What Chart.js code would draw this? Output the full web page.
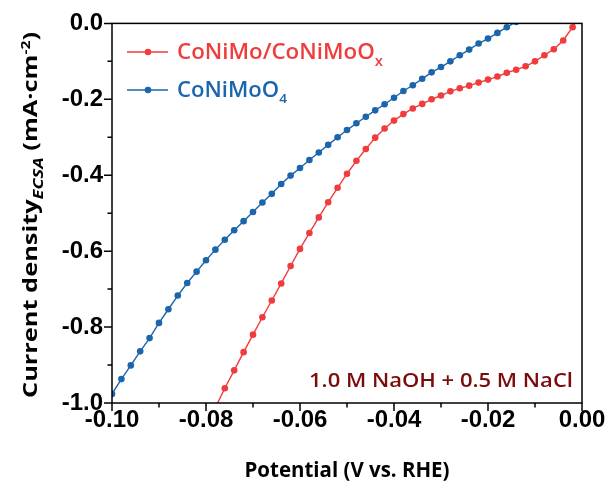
<!DOCTYPE html>
<html lang="en">
<head>
<meta charset="UTF-8">
<title>LSV CoNiMo/CoNiMoOx vs CoNiMoO4</title>
<script src="https://cdn.jsdelivr.net/npm/chart.js"></script>
<style>
  html, body { margin: 0; padding: 0; background: #fff; }
  #wrap { width: 609px; height: 481px; }
</style>
</head>
<body>
<div id="wrap"><canvas id="lsv"></canvas></div>
<script>
  // potential (V vs. RHE) and current density (mA cm^-2)
  const redPotential = [-0.078, -0.076, -0.074, -0.072, -0.070, -0.068, -0.066, -0.064, -0.062, -0.060,
    -0.058, -0.056, -0.054, -0.052, -0.050, -0.048, -0.046, -0.044, -0.042, -0.040,
    -0.038, -0.036, -0.034, -0.032, -0.030, -0.028, -0.026, -0.024, -0.022, -0.020,
    -0.018, -0.016, -0.014, -0.012, -0.010, -0.008, -0.006, -0.004, -0.002, 0.000];
  const redCurrent = [-1.012, -0.961, -0.914, -0.866, -0.820, -0.774, -0.730, -0.685, -0.639, -0.594,
    -0.552, -0.511, -0.471, -0.433, -0.396, -0.362, -0.331, -0.301, -0.277, -0.256,
    -0.239, -0.224, -0.212, -0.200, -0.190, -0.179, -0.171, -0.164, -0.156, -0.148,
    -0.140, -0.130, -0.122, -0.113, -0.100, -0.084, -0.068, -0.045, -0.010, 0.030];

  const bluePotential = [-0.100, -0.098, -0.096, -0.094, -0.092, -0.090, -0.088, -0.086, -0.084, -0.082,
    -0.080, -0.078, -0.076, -0.074, -0.072, -0.070, -0.068, -0.066, -0.064, -0.062,
    -0.060, -0.058, -0.056, -0.054, -0.052, -0.050, -0.048, -0.046, -0.044, -0.042,
    -0.040, -0.038, -0.036, -0.034, -0.032, -0.030, -0.028, -0.026, -0.024, -0.022,
    -0.020, -0.018, -0.016, -0.014];
  const blueCurrent = [-0.976, -0.937, -0.901, -0.864, -0.829, -0.789, -0.753, -0.717, -0.684, -0.654,
    -0.624, -0.596, -0.570, -0.545, -0.521, -0.497, -0.472, -0.449, -0.423, -0.401,
    -0.381, -0.360, -0.340, -0.320, -0.300, -0.281, -0.263, -0.246, -0.229, -0.213,
    -0.196, -0.178, -0.163, -0.146, -0.129, -0.115, -0.100, -0.084, -0.069, -0.053,
    -0.040, -0.025, -0.010, 0.004];

  const xTicks = [-0.10, -0.08, -0.06, -0.04, -0.02, 0.00];
  const xTickLabels = ['-0.10', '-0.08', '-0.06', '-0.04', '-0.02', '0.00'];
  const xMinor = [-0.09, -0.07, -0.05, -0.03, -0.01];
  const yTicks = [-1.0, -0.8, -0.6, -0.4, -0.2, 0.0];
  const yTickLabels = ['-1.0', '-0.8', '-0.6', '-0.4', '-0.2', '0.0'];
  const yMinor = [-0.9, -0.7, -0.5, -0.3, -0.1];

  const RED = '#f03c3c';
  const BLUE = '#1b65ac';
  const NOTE = '#7a0c0c';
  const TXT = '"Open Sans", Lato, sans-serif';

  function toPoints(xs, ys) {
    return xs.map((x, i) => ({ x: x, y: ys[i] }));
  }

  function fontOf(s) {
    return (s.italic ? 'italic ' : '') + (s.weight || 700) + ' ' + s.size + 'px ' + TXT;
  }

  // draws runs of text with sub/superscripts; fit = wanted total width, reached by squeezing along the text
  function drawRich(ctx, segs, x, y, align, color, fit) {
    let total = 0;
    segs.forEach(s => { ctx.font = fontOf(s); s.w = ctx.measureText(s.t).width; total += s.w; });
    const k = fit ? fit / total : 1;
    const w = total * k;
    const x0 = align === 'center' ? x - w / 2 : align === 'right' ? x - w : x;
    ctx.save();
    ctx.translate(x0, y);
    ctx.scale(k, 1);
    ctx.fillStyle = color;
    ctx.textAlign = 'left';
    ctx.textBaseline = 'alphabetic';
    let cx = 0;
    segs.forEach(s => {
      ctx.font = fontOf(s);
      ctx.fillText(s.t, cx, s.dy || 0);
      cx += s.w;
    });
    ctx.restore();
  }

  const decor = {
    id: 'decor',
    afterDraw(chart) {
      const ctx = chart.ctx;
      const a = chart.chartArea;
      const xs = chart.scales.x, ys = chart.scales.y;
      ctx.save();
      ctx.strokeStyle = '#000';
      ctx.lineWidth = 1.5;
      ctx.strokeRect(a.left, a.top, a.right - a.left, a.bottom - a.top);

      ctx.beginPath();
      xTicks.forEach(v => { const p = xs.getPixelForValue(v); ctx.moveTo(p, a.bottom); ctx.lineTo(p, a.bottom + 8); });
      xMinor.forEach(v => { const p = xs.getPixelForValue(v); ctx.moveTo(p, a.bottom); ctx.lineTo(p, a.bottom + 4.5); });
      yTicks.forEach(v => { const p = ys.getPixelForValue(v); ctx.moveTo(a.left, p); ctx.lineTo(a.left - 8, p); });
      yMinor.forEach(v => { const p = ys.getPixelForValue(v); ctx.moveTo(a.left, p); ctx.lineTo(a.left - 4.5, p); });
      ctx.stroke();

      // axis titles
      drawRich(ctx, [{ t: 'Potential (V vs. RHE)', size: 21 }], (a.left + a.right) / 2, 477, 'center', '#000', 205);
      ctx.save();
      ctx.translate(37, 215);
      ctx.rotate(-Math.PI / 2);
      drawRich(ctx, [
        { t: 'Current density', size: 19.5 },
        { t: 'ECSA', size: 14, italic: true, dy: 6 },
        { t: ' (mA\u00b7cm', size: 19.5 },
        { t: '-2', size: 12, dy: -7 },
        { t: ')', size: 19.5 }
      ], 0, 0, 'center', '#000', 366);
      ctx.restore();

      // legend
      const legend = [
        { color: RED, y: 52, fit: 206, segs: [{ t: 'CoNiMo/CoNiMoO', size: 21, weight: 600 }, { t: 'x', size: 14, dy: 7, weight: 600 }] },
        { color: BLUE, y: 90, fit: 110, segs: [{ t: 'CoNiMoO', size: 21, weight: 600 }, { t: '4', size: 13, dy: 6, weight: 600 }] }
      ];
      legend.forEach(l => {
        ctx.strokeStyle = l.color;
        ctx.lineWidth = 1.4;
        ctx.beginPath(); ctx.moveTo(127, l.y); ctx.lineTo(168, l.y); ctx.stroke();
        ctx.fillStyle = l.color;
        ctx.beginPath(); ctx.arc(148, l.y, 3.3, 0, Math.PI * 2); ctx.fill();
        drawRich(ctx, l.segs, 177, l.y + 7, 'left', l.color, l.fit);
      });

      drawRich(ctx, [{ t: '1.0 M NaOH + 0.5 M NaCl', size: 20, weight: 600 }], a.right - 9, 387, 'right', NOTE, 264);
      ctx.restore();
    }
  };

  new Chart(document.getElementById('lsv'), {
    type: 'line',
    data: {
      datasets: [
        {
          label: 'CoNiMo/CoNiMoOx',
          data: toPoints(redPotential, redCurrent),
          borderColor: RED, backgroundColor: RED,
          borderWidth: 1.4, pointRadius: 3.3, pointBorderWidth: 0,
          pointBackgroundColor: RED, tension: 0
        },
        {
          label: 'CoNiMoO4',
          data: toPoints(bluePotential, blueCurrent),
          borderColor: BLUE, backgroundColor: BLUE,
          borderWidth: 1.4, pointRadius: 3.3, pointBorderWidth: 0,
          pointBackgroundColor: BLUE, tension: 0
        }
      ]
    },
    options: {
      responsive: true,
      maintainAspectRatio: false,
      animation: false,
      layout: { padding: { top: 22, right: 27, left: 0, bottom: 0 } },
      plugins: { legend: { display: false }, tooltip: { enabled: false } },
      scales: {
        x: {
          type: 'linear', min: -0.10, max: 0.00,
          grid: { display: false, drawTicks: false },
          border: { display: false },
          afterBuildTicks: s => { s.ticks = xTicks.map(v => ({ value: v })); },
          afterFit: s => { s.height = 78; },
          ticks: {
            color: '#000', padding: 3, maxRotation: 0,
            font: { family: '"Liberation Sans", Arial, sans-serif', weight: 'bold', size: 24 },
            callback: (v, i) => xTickLabels[i]
          }
        },
        y: {
          type: 'linear', min: -1.0, max: 0.0,
          grid: { display: false, drawTicks: false },
          border: { display: false },
          afterBuildTicks: s => { s.ticks = yTicks.map(v => ({ value: v })); },
          afterFit: s => { s.width = 112; },
          ticks: {
            color: '#000', padding: 9,
            font: { family: '"Liberation Sans", Arial, sans-serif', weight: 'bold', size: 24 },
            callback: (v, i) => yTickLabels[i]
          }
        }
      }
    },
    plugins: [decor]
  });
</script>
</body>
</html>
